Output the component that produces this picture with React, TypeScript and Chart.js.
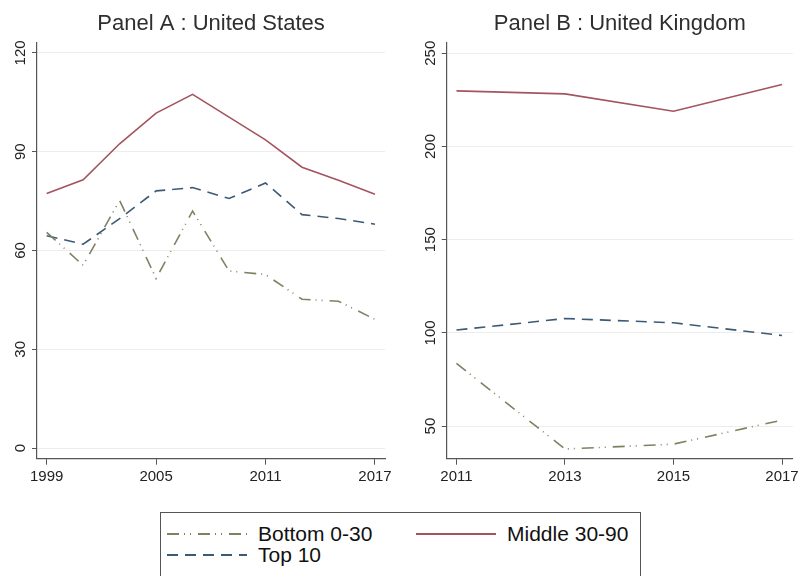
import React, { useEffect, useRef } from "react";
import { Chart, registerables } from "chart.js";

Chart.register(...registerables);

// ---------- data ----------
const seriesLabels = ["Bottom 0-30", "Middle 30-90", "Top 10"];

const usYears = [1999, 2001, 2003, 2005, 2007, 2009, 2011, 2013, 2015, 2017];
const usBottom = [65.5, 55.5, 75.2, 51.5, 72.0, 53.8, 52.7, 45.2, 44.6, 39.1];
const usMiddle = [77.3, 81.5, 92.4, 101.7, 107.4, 100.5, 93.6, 85.3, 81.3, 77.1];
const usTop = [64.5, 61.9, 69.7, 78.1, 79.1, 75.8, 80.5, 70.9, 69.7, 68.0];
const usXTicks = [1999, 2005, 2011, 2017];
const usYTicks = [0, 30, 60, 90, 120];

const ukYears = [2011, 2013, 2015, 2017];
const ukBottom = [83.6, 37.7, 40.3, 53.2];
const ukMiddle = [229.8, 228.2, 218.9, 233.2];
const ukTop = [101.5, 107.7, 105.4, 98.6];
const ukXTicks = [2011, 2013, 2015, 2017];
const ukYTicks = [50, 100, 150, 200, 250];

// ---------- styles ----------
const FONT = "'Liberation Sans', Arial, Helvetica, sans-serif";
const RED = "#a4545e";
const BLUE = "#3c5a76";
const GREEN = "#7a8462";
const AXIS = "#555555";
const GRID = "#ededed";
const TEXT = "#222222";
const BOTTOM_DASH = [12, 5, 1, 5, 1, 7];
const TOP_DASH = [11, 7];

type Panel = {
  title: string;
  years: number[];
  bottom: number[];
  middle: number[];
  top: number[];
  xTicks: number[];
  yTicks: number[];
  xMin: number;
  xMax: number;
  yMin: number;
  yMax: number;
  axisWidth: number;
  padRight: number;
};

const yLabelPlugin = {
  id: "yRotLabels",
  afterDraw(chart: any) {
    const scale = chart.scales.y;
    const ctx = chart.ctx;
    const left = chart.chartArea.left;
    ctx.save();
    ctx.fillStyle = TEXT;
    ctx.font = `15px ${FONT}`;
    ctx.textAlign = "center";
    ctx.textBaseline = "middle";
    for (const t of scale.ticks) {
      const y = scale.getPixelForValue(t.value);
      ctx.save();
      ctx.translate(left - 16, y);
      ctx.rotate(-Math.PI / 2);
      ctx.fillText(String(t.value), 0, 0);
      ctx.restore();
    }
    ctx.restore();
  },
};

function makeConfig(p: Panel): any {
  const pts = (vals: number[]) => p.years.map((x, i) => ({ x, y: vals[i] }));
  return {
    type: "line",
    data: {
      datasets: [
        {
          label: seriesLabels[0],
          data: pts(p.bottom),
          borderColor: GREEN,
          borderWidth: 1.6,
          borderDash: BOTTOM_DASH,
          pointRadius: 0,
          tension: 0,
          fill: false,
        },
        {
          label: seriesLabels[1],
          data: pts(p.middle),
          borderColor: RED,
          borderWidth: 1.6,
          pointRadius: 0,
          tension: 0,
          fill: false,
        },
        {
          label: seriesLabels[2],
          data: pts(p.top),
          borderColor: BLUE,
          borderWidth: 1.6,
          borderDash: TOP_DASH,
          pointRadius: 0,
          tension: 0,
          fill: false,
        },
      ],
    },
    options: {
      animation: false,
      responsive: false,
      maintainAspectRatio: false,
      events: [],
      layout: { padding: { left: 0, right: p.padRight, top: 0, bottom: 0 } },
      plugins: {
        legend: { display: false },
        tooltip: { enabled: false },
        title: {
          display: true,
          text: p.title,
          fullSize: false,
          color: "#2e2e2e",
          font: { family: FONT, size: 22, weight: "normal", lineHeight: 1.2 },
          padding: { top: 11, bottom: 5.6 },
        },
      },
      scales: {
        x: {
          type: "linear",
          min: p.xMin,
          max: p.xMax,
          afterBuildTicks: (s: any) => {
            s.ticks = p.xTicks.map((v) => ({ value: v }));
          },
          afterFit: (s: any) => {
            s.height = 31.3;
          },
          ticks: {
            callback: (v: any) => String(v),
            font: { family: FONT, size: 15 },
            color: TEXT,
            padding: 3,
            autoSkip: false,
            maxRotation: 0,
            minRotation: 0,
          },
          grid: {
            display: true,
            drawOnChartArea: false,
            drawTicks: true,
            tickLength: 6,
            tickColor: AXIS,
            tickWidth: 1,
          },
          border: { display: true, color: AXIS, width: 1.2 },
        },
        y: {
          type: "linear",
          min: p.yMin,
          max: p.yMax,
          afterBuildTicks: (s: any) => {
            s.ticks = p.yTicks.map((v) => ({ value: v }));
          },
          afterFit: (s: any) => {
            s.width = p.axisWidth;
          },
          ticks: { display: false },
          grid: {
            display: true,
            color: GRID,
            lineWidth: 1,
            drawTicks: true,
            tickLength: 5,
            tickColor: AXIS,
            tickWidth: 1,
          },
          border: { display: true, color: AXIS, width: 1.2 },
        },
      },
    },
    plugins: [yLabelPlugin],
  };
}

const panelA: Panel = {
  title: "Panel A : United States",
  years: usYears,
  bottom: usBottom,
  middle: usMiddle,
  top: usTop,
  xTicks: usXTicks,
  yTicks: usYTicks,
  xMin: 1998.47,
  xMax: 2017.55,
  yMin: -3.2,
  yMax: 123,
  axisWidth: 37,
  padRight: 15,
};

const panelB: Panel = {
  title: "Panel B : United Kingdom",
  years: ukYears,
  bottom: ukBottom,
  middle: ukMiddle,
  top: ukTop,
  xTicks: ukXTicks,
  yTicks: ukYTicks,
  xMin: 2010.82,
  xMax: 2017.2,
  yMin: 32.5,
  yMax: 255.5,
  axisWidth: 46.7,
  padRight: 6,
};

function PanelChart({ panel, left, width }: { panel: Panel; left: number; width: number }) {
  const ref = useRef<HTMLCanvasElement | null>(null);
  useEffect(() => {
    if (!ref.current) return;
    const chart = new Chart(ref.current, makeConfig(panel));
    return () => chart.destroy();
  }, [panel]);
  return (
    <canvas
      ref={ref}
      width={width}
      height={490}
      style={{ position: "absolute", left, top: 0, width, height: 490, display: "block" }}
    />
  );
}

function Sample({ color, dash }: { color: string; dash?: number[] }) {
  return (
    <svg width={80} height={6} style={{ position: "absolute", left: 0, top: -3 }}>
      <line
        x1={0}
        y1={3}
        x2={80}
        y2={3}
        stroke={color}
        strokeWidth={1.8}
        strokeDasharray={dash ? dash.join(" ") : undefined}
      />
    </svg>
  );
}

function LegendItem({ x, y, color, dash, label }: { x: number; y: number; color: string; dash?: number[]; label: string }) {
  return (
    <div style={{ position: "absolute", left: x, top: y }}>
      <Sample color={color} dash={dash} />
      <span
        style={{
          position: "absolute",
          left: 91,
          top: -13,
          lineHeight: "26px",
          fontSize: 21,
          fontFamily: FONT,
          color: "#111",
          whiteSpace: "nowrap",
        }}
      >
        {label}
      </span>
    </div>
  );
}

export default function App() {
  return (
    <div
      style={{
        position: "absolute",
        left: 0,
        top: 0,
        width: 802,
        height: 576,
        overflow: "hidden",
        background: "#ffffff",
      }}
    >
      <PanelChart panel={panelA} left={0} width={400} />
      <PanelChart panel={panelB} left={400} width={402} />
      <div
        style={{
          position: "absolute",
          left: 160,
          top: 512,
          width: 481,
          height: 80,
          border: "1px solid #555",
          boxSizing: "border-box",
        }}
      >
        <LegendItem x={6} y={20.5} color={GREEN} dash={BOTTOM_DASH} label={seriesLabels[0]} />
        <LegendItem x={255} y={20.5} color={RED} label={seriesLabels[1]} />
        <LegendItem x={6} y={42} color={BLUE} dash={TOP_DASH} label={seriesLabels[2]} />
      </div>
    </div>
  );
}
